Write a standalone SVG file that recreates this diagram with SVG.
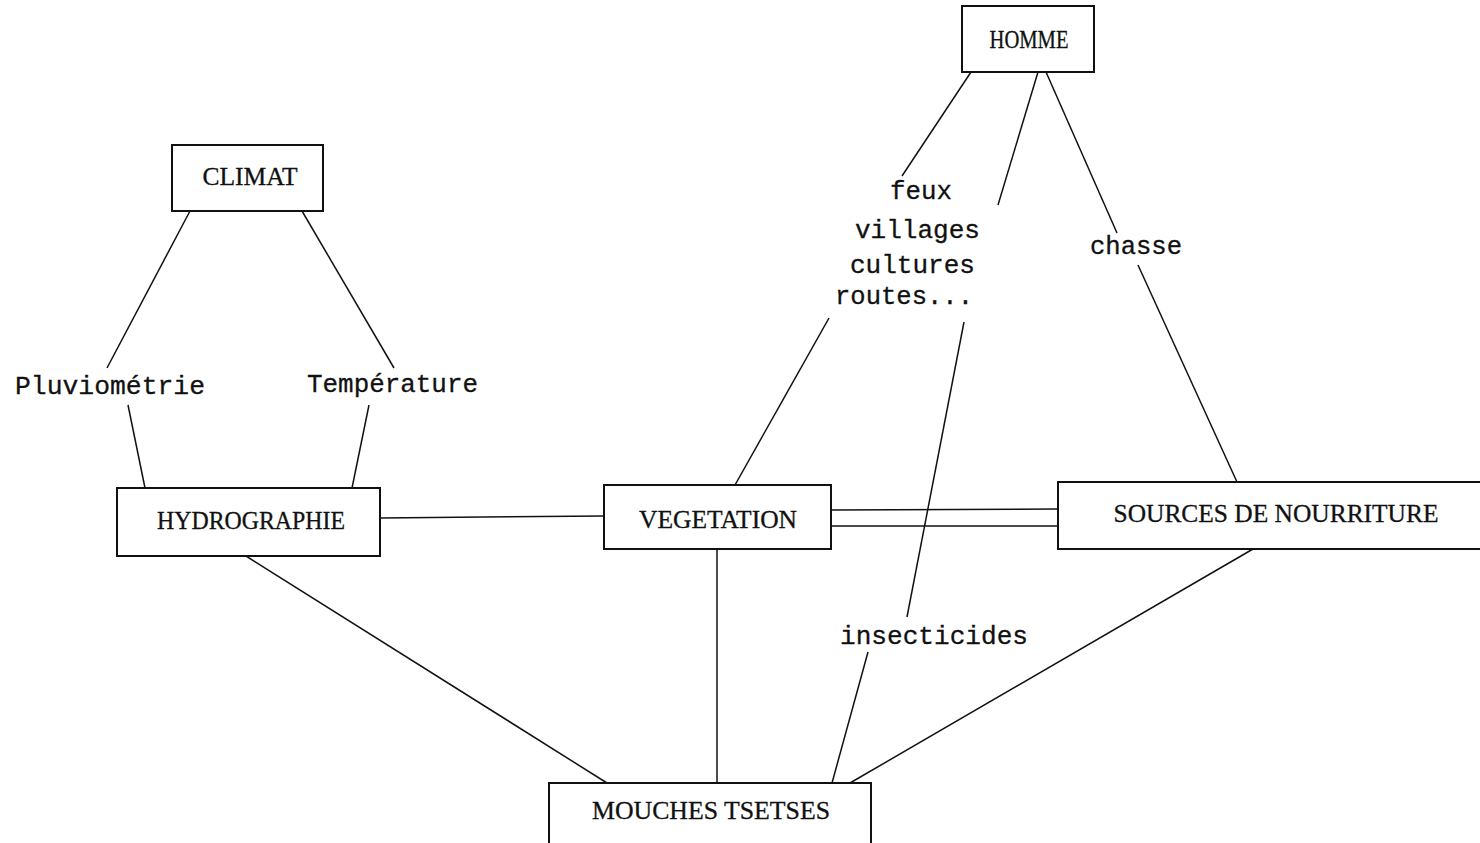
<svg xmlns="http://www.w3.org/2000/svg" width="1480" height="843" viewBox="0 0 1480 843">
<style>
.box{fill:#fff;stroke:#111;stroke-width:2}
.ln{stroke:#111;stroke-width:1.5;fill:none}
.bl{font-family:"Liberation Serif",serif;font-size:25px;fill:#111;text-anchor:middle;stroke:#111;stroke-width:0.3}
.lb{font-family:"Liberation Mono",monospace;font-size:26px;fill:#111;stroke:#111;stroke-width:0.3}
</style>
<rect width="1480" height="843" fill="#fff"/>
<g id="connectors">
<line class="ln" x1="190" y1="211" x2="107" y2="368"/>
<line class="ln" x1="302" y1="211" x2="394" y2="368"/>
<line class="ln" x1="128" y1="405" x2="145" y2="488"/>
<line class="ln" x1="369" y1="405" x2="352" y2="488"/>
<line class="ln" x1="380" y1="518" x2="604" y2="516"/>
<line class="ln" x1="831" y1="510" x2="1058" y2="509"/>
<line class="ln" x1="831" y1="526" x2="1058" y2="526"/>
<line class="ln" x1="971" y1="72" x2="902" y2="176"/>
<line class="ln" x1="829" y1="318" x2="735" y2="485"/>
<line class="ln" x1="1038" y1="72" x2="998" y2="205"/>
<line class="ln" x1="964" y1="322" x2="907" y2="617"/>
<line class="ln" x1="868" y1="652" x2="832" y2="783"/>
<line class="ln" x1="1046" y1="72" x2="1117" y2="233"/>
<line class="ln" x1="1138" y1="265" x2="1237" y2="482"/>
<line class="ln" x1="246" y1="556" x2="607" y2="783"/>
<line class="ln" x1="717" y1="549" x2="717" y2="783"/>
<line class="ln" x1="1253" y1="549" x2="850" y2="783"/>
</g>
<g id="homme"><rect class="box" x="962" y="6" width="132" height="66"/><text class="bl" x="1029" y="48" textLength="79" lengthAdjust="spacingAndGlyphs">HOMME</text></g>
<g id="climat"><rect class="box" x="172" y="145" width="151" height="66"/><text class="bl" x="250" y="185" textLength="95" lengthAdjust="spacingAndGlyphs">CLIMAT</text></g>
<g id="hydrographie"><rect class="box" x="117" y="488" width="263" height="68"/><text class="bl" x="251" y="529" textLength="188" lengthAdjust="spacingAndGlyphs">HYDROGRAPHIE</text></g>
<g id="vegetation"><rect class="box" x="604" y="485" width="227" height="64"/><text class="bl" x="718" y="528" textLength="158" lengthAdjust="spacingAndGlyphs">VEGETATION</text></g>
<g id="sources"><rect class="box" x="1058" y="482" width="430" height="67"/><text class="bl" x="1276" y="522" textLength="325" lengthAdjust="spacingAndGlyphs">SOURCES DE NOURRITURE</text></g>
<g id="mouches"><rect class="box" x="549" y="783" width="322" height="70"/><text class="bl" x="711" y="819" textLength="238" lengthAdjust="spacingAndGlyphs">MOUCHES TSETSES</text></g>
<g id="labels">
<text class="lb" x="15" y="394" textLength="190" lengthAdjust="spacingAndGlyphs">Pluviométrie</text>
<text class="lb" x="307" y="392" textLength="171" lengthAdjust="spacingAndGlyphs">Température</text>
<text class="lb" x="890" y="199" textLength="62" lengthAdjust="spacingAndGlyphs">feux</text>
<text class="lb" x="855" y="238" textLength="125" lengthAdjust="spacingAndGlyphs">villages</text>
<text class="lb" x="850" y="273" textLength="125" lengthAdjust="spacingAndGlyphs">cultures</text>
<text class="lb" x="835" y="304" textLength="138" lengthAdjust="spacingAndGlyphs">routes...</text>
<text class="lb" x="1090" y="254" textLength="92" lengthAdjust="spacingAndGlyphs">chasse</text>
<text class="lb" x="840" y="644" textLength="188" lengthAdjust="spacingAndGlyphs">insecticides</text>
</g>
</svg>
